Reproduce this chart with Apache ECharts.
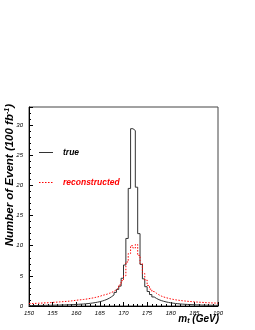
<!DOCTYPE html>
<html>
<head>
<meta charset="utf-8">
<script src="https://cdn.jsdelivr.net/npm/echarts@6/dist/echarts.min.js"></script>
<style>html,body{margin:0;padding:0;background:#fff}#c{width:255px;height:330px}</style>
</head>
<body>
<div id="c"></div>
<script>
// Histogram binning (0.5 GeV bins from 150 to 190 GeV)
const binMin = 150, binWidth = 0.5;
const xTicks = [150, 155, 160, 165, 170, 175, 180, 185, 190];
const yTicks = [0, 5, 10, 15, 20, 25, 30];
const seriesNames = ['true', 'reconstructed'];
// true m_t distribution, one value per bin
const trueCounts = [
  0.08,0.08,0.09,0.09,0.10,0.10,0.11,0.12,0.12,0.13,
  0.14,0.15,0.16,0.17,0.18,0.19,0.21,0.22,0.24,0.26,
  0.28,0.31,0.33,0.37,0.40,0.45,0.50,0.56,0.63,0.72,
  0.82,0.95,1.10,1.30,1.55,1.85,2.25,2.75,3.30,4.60,
  6.80,11.2,19.5,29.4,29.1,19.7,12.0,6.9,4.5,3.2,
  2.4,1.9,1.5,1.25,1.05,0.90,0.78,0.68,0.60,0.53,
  0.47,0.42,0.38,0.34,0.31,0.28,0.26,0.24,0.22,0.20,
  0.19,0.18,0.16,0.15,0.14,0.13,0.13,0.12,0.11,0.11
];
// reconstructed m_t distribution, one value per bin
const recoCounts = [
  0.40,0.42,0.44,0.46,0.48,0.50,0.52,0.54,0.56,0.59,
  0.62,0.65,0.68,0.71,0.74,0.77,0.80,0.85,0.90,0.95,
  1.00,1.03,1.08,1.13,1.19,1.26,1.33,1.41,1.50,1.60,
  1.75,1.85,1.95,2.10,2.25,2.45,2.70,3.00,3.50,4.20,
  5.00,7.30,8.70,10.0,9.6,10.2,8.4,7.0,5.4,4.3,
  3.4,2.8,2.4,2.1,1.85,1.65,1.50,1.38,1.28,1.18,
  1.10,1.03,0.97,0.92,0.87,0.83,0.79,0.75,0.72,0.69,
  0.66,0.63,0.61,0.58,0.56,0.54,0.52,0.50,0.49,0.47
];

function stepData(counts) {
  const pts = counts.map((v, i) => [binMin + i * binWidth, v]);
  pts.push([binMin + counts.length * binWidth, counts[counts.length - 1]]);
  return pts;
}

const FONT = '"Liberation Sans", Arial, sans-serif';
const legendStyle = {fontFamily: FONT, fontStyle: 'italic', fontWeight: 'bold', fontSize: 8.5, verticalAlign: 'middle', align: 'left'};
const chart = echarts.init(document.getElementById('c'), null, {renderer: 'canvas'});
chart.setOption({
  animation: false,
  backgroundColor: '#fff',
  grid: {left: 29, right: 37, top: 107, bottom: 24, show: true, borderColor: '#444', borderWidth: 1},
  xAxis: {
    type: 'value', min: xTicks[0], max: xTicks[xTicks.length - 1], interval: 5,
    axisLine: {show: true, lineStyle: {color: '#000', width: 1}},
    axisTick: {show: true, inside: true, length: 4, lineStyle: {color: '#000'}},
    minorTick: {show: true, splitNumber: 5, length: 2, lineStyle: {color: '#000'}},
    splitLine: {show: false},
    axisLabel: {fontFamily: FONT, fontStyle: 'italic', fontSize: 6, color: '#000', margin: 4, showMinLabel: true, showMaxLabel: true}
  },
  yAxis: {
    type: 'value', min: yTicks[0], max: 33, interval: 5,
    axisLine: {show: true, lineStyle: {color: '#000', width: 1}},
    axisTick: {show: true, inside: true, length: 4, lineStyle: {color: '#000'}},
    minorTick: {show: true, splitNumber: 5, length: 2, lineStyle: {color: '#000'}},
    splitLine: {show: false},
    axisLabel: {fontFamily: FONT, fontStyle: 'italic', fontSize: 6, color: '#000', margin: 6,
      formatter: v => yTicks.indexOf(v) >= 0 ? String(v) : ''}
  },
  series: [
    {name: seriesNames[0], type: 'line', step: 'end', symbol: 'none', data: stepData(trueCounts),
     lineStyle: {color: '#333', width: 1}, itemStyle: {color: '#333'}},
    {name: seriesNames[1], type: 'line', step: 'end', symbol: 'none', data: stepData(recoCounts),
     lineStyle: {color: '#f00', width: 1, type: [1.5, 1.5]}, itemStyle: {color: '#f00'}}
  ],
  graphic: [
    {type: 'line', shape: {x1: 39, y1: 152.5, x2: 53, y2: 152.5}, style: {stroke: '#333', lineWidth: 1}},
    {type: 'text', x: 63, y: 153, style: Object.assign({text: seriesNames[0], fill: '#000'}, legendStyle)},
    {type: 'line', shape: {x1: 39, y1: 182.5, x2: 53, y2: 182.5}, style: {stroke: '#f00', lineWidth: 1, lineDash: [1.5, 1.5]}},
    {type: 'text', x: 63, y: 183, style: Object.assign({text: seriesNames[1], fill: '#f00'}, legendStyle)},
    {type: 'text', x: 10, y: 104, rotation: Math.PI / 2,
     style: {text: 'Number of Event (100 fb{sup|-1})', align: 'right', verticalAlign: 'middle',
       fontFamily: FONT, fontStyle: 'italic', fontWeight: 'bold', fontSize: 11.5, fill: '#000',
       rich: {sup: {fontSize: 7, fontFamily: FONT, fontStyle: 'italic', fontWeight: 'bold', verticalAlign: 'top', padding: [0,0,6,0]}}}},
    {type: 'text', x: 219, y: 319,
     style: {text: 'm{sub|t} (GeV)', align: 'right', verticalAlign: 'middle',
       fontFamily: FONT, fontStyle: 'italic', fontWeight: 'bold', fontSize: 10, fill: '#000',
       rich: {sub: {fontSize: 7, fontFamily: FONT, fontStyle: 'italic', fontWeight: 'bold', padding: [5,0,0,0]}}}}
  ]
});
</script>
</body>
</html>
